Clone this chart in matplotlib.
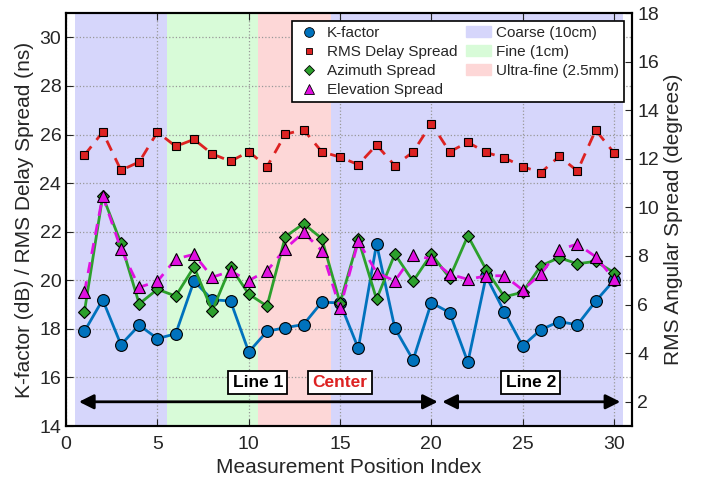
import numpy as np
import matplotlib
matplotlib.use("Agg")
import matplotlib.pyplot as plt
from matplotlib.patches import Patch
from matplotlib.lines import Line2D

plt.rcParams['font.family'] = ['Liberation Sans', 'DejaVu Sans']

# posiciones de medida
pos = np.arange(1, 31)

# eje izquierdo
k_factor = [17.9, 19.2, 17.35, 18.15, 17.6, 17.8, 19.97, 19.2, 19.15, 17.05,
            17.9, 18.05, 18.18, 19.1, 19.07, 17.2, 21.5, 18.03, 16.72, 19.08,
            18.67, 16.63, 20.17, 18.7, 17.3, 17.97, 18.3, 18.17, 19.14, 20.0]
rms_delay = [25.15, 26.1, 24.53, 24.87, 26.1, 25.51, 25.8, 25.2, 24.9, 25.29,
             24.68, 26.01, 26.2, 25.29, 25.07, 24.76, 25.57, 24.72, 25.28, 26.45,
             25.29, 25.68, 25.26, 25.04, 24.68, 24.43, 25.1, 24.5, 26.18, 25.25]

# eje derecho (grados)
azimuth = [5.71, 10.47, 8.53, 6.03, 6.63, 6.35, 7.55, 5.75, 7.55, 6.43,
           5.94, 8.79, 9.33, 8.72, 6.07, 8.69, 6.22, 8.08, 6.96, 8.08,
           7.1, 8.83, 7.44, 6.32, 6.51, 7.6, 7.93, 7.68, 7.78, 7.32]
elevation = [6.51, 10.47, 8.29, 6.71, 6.96, 7.875, 8.07, 7.125, 7.375, 6.99,
             7.39, 8.3, 8.97, 8.22, 5.86, 8.61, 7.32, 6.97, 8.04, 7.875,
             7.25, 7.04, 7.18, 7.19, 6.6, 7.26, 8.26, 8.49, 7.97, 7.05]

# zonas de resolución
regions = [(0.5, 5.5, "Coarse (10cm)"), (5.5, 10.5, "Fine (1cm)"),
           (10.5, 14.5, "Ultra-fine (2.5mm)"), (14.5, 30.5, "Coarse (10cm)")]
region_colors = {"Coarse (10cm)": "#d6d6fb", "Fine (1cm)": "#d8fbd8",
                 "Ultra-fine (2.5mm)": "#fdd7d7"}

c_blue = "#0072BD"
c_red = "#dd2222"
c_green = "#2ca02c"
c_mag = "#e010e0"
txt = "#262626"

fig = plt.figure(figsize=(7.04, 4.82), dpi=100)
ax = fig.add_axes([0.094, 0.116, 0.804, 0.857])
ax2 = ax.twinx()

for x0, x1, name in regions:
    ax.axvspan(x0, x1, color=region_colors[name], lw=0, zorder=0)

ax.plot(pos, k_factor, '-o', color=c_blue, lw=2, ms=8.5, mec='k', mew=0.8, zorder=3)
ax.plot(pos, rms_delay, '--s', color=c_red, lw=2, ms=6, mec='k', mew=0.8,
        dashes=(4, 3), zorder=3)
ax2.plot(pos, azimuth, '-D', color=c_green, lw=2, ms=6.5, mec='k', mew=0.8, zorder=3)
ax2.plot(pos, elevation, '--^', color=c_mag, lw=2, ms=8.5, mec='k', mew=0.8,
         dashes=(4, 3), zorder=4)

ax.set_xlim(0, 31)
ax.set_ylim(14, 31)
ax2.set_ylim(1, 18)
ax.set_xticks(range(0, 31, 5))
ax.set_yticks(range(14, 31, 2))
ax2.set_yticks(range(2, 19, 2))
ax.grid(True, color='#999999', ls=':', lw=0.9)
ax.tick_params(direction='in', top=True, labelsize=14, colors=txt, length=5)
ax.tick_params(axis='x', pad=7)
ax2.tick_params(direction='in', labelsize=14, colors=txt, length=5)
for a in (ax, ax2):
    for s in a.spines.values():
        s.set_linewidth(1.5)
        s.set_color('k')

ax.set_xlabel("Measurement Position Index", fontsize=15, color=txt)
ax.set_ylabel("K-factor (dB) / RMS Delay Spread (ns)", fontsize=15, color=txt)
ax2.set_ylabel("RMS Angular Spread (degrees)", fontsize=15, color=txt)

# flechas de líneas de medida
arr = dict(arrowstyle='<|-|>', color='k', lw=2, mutation_scale=22,
           shrinkA=0, shrinkB=0)
ax.annotate('', xy=(20.35, 15), xytext=(0.7, 15), arrowprops=arr, zorder=5)
ax.annotate('', xy=(30.35, 15), xytext=(20.6, 15), arrowprops=arr, zorder=5)
box = dict(boxstyle='square,pad=0.25', fc='white', ec='k', lw=1.3)
ax.text(10.5, 15.8, "Line 1", ha='center', va='center', fontsize=12.5,
        fontweight='bold', color='k', bbox=box, zorder=5)
ax.text(15.0, 15.8, "Center", ha='center', va='center', fontsize=12.5,
        fontweight='bold', color=c_red, bbox=box, zorder=5)
ax.text(25.45, 15.8, "Line 2", ha='center', va='center', fontsize=12.5,
        fontweight='bold', color='k', bbox=box, zorder=5)

handles = [
    Line2D([], [], ls='none', marker='o', color=c_blue, mec='k', mew=0.6, ms=7),
    Line2D([], [], ls='none', marker='s', color=c_red, mec='k', mew=0.6, ms=5),
    Line2D([], [], ls='none', marker='D', color=c_green, mec='k', mew=0.6, ms=5.5),
    Line2D([], [], ls='none', marker='^', color=c_mag, mec='k', mew=0.6, ms=7),
    Patch(color=region_colors["Coarse (10cm)"]),
    Patch(color=region_colors["Fine (1cm)"]),
    Patch(color=region_colors["Ultra-fine (2.5mm)"]),
]
labels = ["K-factor", "RMS Delay Spread", "Azimuth Spread", "Elevation Spread",
          "Coarse (10cm)", "Fine (1cm)", "Ultra-fine (2.5mm)"]
leg = ax2.legend(handles, labels, ncol=2, loc='upper right', fontsize=11,
                 fancybox=False, framealpha=1, edgecolor='k',
                 borderaxespad=0.55, handlelength=1.6, handletextpad=0.35,
                 columnspacing=0.6, labelspacing=0.33, borderpad=0.3)
leg.get_frame().set_linewidth(1.2)
for t in leg.get_texts():
    t.set_color(txt)

fig.savefig("out.png", dpi=100)
